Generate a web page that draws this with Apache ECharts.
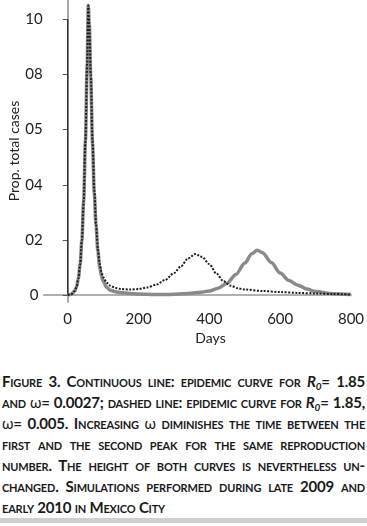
<!DOCTYPE html>
<html>
<head>
<meta charset="utf-8">
<script src="https://cdn.jsdelivr.net/npm/echarts@6/dist/echarts.min.js"></script>
<style>
  html, body { margin: 0; padding: 0; background: #fff; }
  #wrap { position: relative; width: 367px; height: 526px; overflow: hidden; }
  #chart { position: absolute; left: 0; top: 0; width: 367px; height: 350px; }
  #caption {
    position: absolute; left: 2px; top: 371px; width: 363px;
    font-family: Lato, sans-serif; font-weight: bold; letter-spacing: -0.2px;
    font-variant: small-caps; font-size: 15px; line-height: 21px; color: #1a1a1a;
  }
  #caption div { white-space: nowrap; text-align: justify; text-align-last: justify; }
  #caption div.last { text-align-last: left; }
  #caption i { font-style: italic; }
  #caption sub { font-size: 10px; vertical-align: -3px; line-height: 0; }
  .om { font-variant: normal; font-weight: normal; }
  #rule { position: absolute; left: 0; top: 518px; width: 367px; height: 5px; background: #cfcfcf; }
</style>
</head>
<body>
<div id="wrap">
  <div id="chart"></div>
  <div id="caption">
    <div>Figure 3. Continuous line: epidemic curve for <i>R<sub>0</sub></i>= 1.85</div>
    <div>and <span class="om">ω</span>= 0.0027; dashed line: epidemic curve for <i>R<sub>0</sub></i>= 1.85,</div>
    <div><span class="om">ω</span>= 0.005. Increasing <span class="om">ω</span> diminishes the time between the</div>
    <div>first and the second peak for the same reproduction</div>
    <div>number. The height of both curves is nevertheless un-</div>
    <div>changed. Simulations performed during late 2009 and</div>
    <div class="last">early 2010 in Mexico City</div>
  </div>
  <div id="rule"></div>
</div>
<script>
// continuous line (R0 = 1.85, omega = 0.0027)
var solidDays = [0, 10, 20, 25, 30, 35, 40, 45, 50, 55, 58, 61, 65, 70, 75, 80, 85, 90, 95, 100,
  110, 120, 135, 150, 175, 200, 225, 250, 275, 300, 325, 350, 375, 400, 425, 450, 475, 500,
  520, 535, 550, 575, 600, 625, 650, 675, 700, 750, 800];
var solidVals = [0, 0.0003, 0.0015, 0.003, 0.006, 0.011, 0.02, 0.034, 0.056, 0.084, 0.105, 0.098,
  0.079, 0.055, 0.037, 0.025, 0.016, 0.0105, 0.007, 0.005,
  0.0028, 0.0018, 0.0012, 0.0009, 0.0006, 0.0004, 0.0003, 0.0002, 0.0002, 0.0003, 0.0005, 0.0007,
  0.001, 0.0015, 0.0025, 0.0043, 0.0075, 0.0116,
  0.015, 0.0163, 0.0154, 0.0118, 0.008, 0.0053, 0.0036, 0.0022, 0.0013, 0.0005, 0.0002];

// dashed line (R0 = 1.85, omega = 0.005)
var dottedDays = [0, 10, 20, 25, 30, 35, 40, 45, 50, 55, 58, 61, 65, 70, 75, 80, 85, 90, 95, 100,
  110, 120, 135, 150, 175, 200, 225, 250, 275, 300, 320, 340, 360, 380, 400, 420, 440, 460, 480,
  500, 550, 600, 650, 700, 750, 800];
var dottedVals = [0, 0.0003, 0.0015, 0.003, 0.006, 0.011, 0.02, 0.034, 0.056, 0.084, 0.105, 0.098,
  0.08, 0.056, 0.038, 0.026, 0.017, 0.0115, 0.0085, 0.0065,
  0.0045, 0.0034, 0.0026, 0.0022, 0.002, 0.0022, 0.0028, 0.0038, 0.0055, 0.008, 0.0105, 0.0133,
  0.0149, 0.0138, 0.0112, 0.0078, 0.005, 0.0034, 0.0025,
  0.002, 0.0015, 0.0011, 0.0008, 0.0006, 0.0004, 0.0002];

// thin vertical line at day 0 (from 0 up to 0.10)
var refDays = [0, 0];
var refVals = [0, 0.10];

var xTicks = [0, 200, 400, 600, 800];
var yTicks = [0, 0.02, 0.04, 0.06, 0.08, 0.10];
var yTickLabels = ["0", "02", "04", "05", "08", "10"];

function pairs(xs, ys) {
  var out = [];
  for (var i = 0; i < xs.length; i++) out.push([xs[i], ys[i]]);
  return out;
}

var chart = echarts.init(document.getElementById("chart"));
var font = "Lato";

var option = {
  animation: false,
  grid: { left: 44, right: 16, top: 0, height: 302, outerBoundsMode: "none", containLabel: false },
  xAxis: {
    type: "value",
    min: -67,
    max: 800,
    name: "Days",
    nameLocation: "middle",
    nameGap: 28,
    nameTextStyle: { fontFamily: font, fontSize: 14, color: "#222", padding: [0, 0, 0, 26] },
    axisLine: { onZero: true, lineStyle: { color: "#b0b0b0", width: 2 } },
    axisTick: { show: false },
    splitLine: { show: false },
    axisLabel: {
      customValues: xTicks,
      margin: 10,
      fontFamily: font,
      fontSize: 15,
      color: "#222"
    }
  },
  yAxis: {
    type: "value",
    min: -0.0025,
    max: 0.107,
    offset: -6,
    name: "Prop. total cases",
    nameLocation: "middle",
    nameGap: 29,
    nameMoveOverlap: false,
    nameTextStyle: { fontFamily: font, fontSize: 14, color: "#222" },
    axisLine: { show: true, lineStyle: { color: "#a8a8a8", width: 2 } },
    axisTick: { show: true, customValues: yTicks, length: 5, lineStyle: { color: "#555" } },
    splitLine: { show: false },
    axisLabel: {
      customValues: yTicks,
      align: "center",
      margin: 16,
      fontFamily: font,
      fontSize: 15,
      color: "#222",
      formatter: function (v) {
        for (var i = 0; i < yTicks.length; i++) {
          if (Math.abs(yTicks[i] - v) < 1e-9) return yTickLabels[i];
        }
        return "";
      }
    }
  },
  series: [
    {
      name: "omega 0.0027",
      type: "line",
      data: pairs(solidDays, solidVals),
      symbol: "none",
      smooth: 0.3,
      smoothMonotone: "x",
      z: 2,
      lineStyle: { color: "#8a8a8a", width: 3.5 }
    },
    {
      name: "omega 0.005",
      type: "line",
      data: pairs(dottedDays, dottedVals),
      symbol: "none",
      smooth: 0.3,
      smoothMonotone: "x",
      z: 3,
      lineStyle: { color: "#1e1e1e", width: 2, type: [2, 1.5] }
    },
    {
      name: "ref",
      type: "line",
      data: pairs(refDays, refVals),
      symbol: "none",
      silent: true,
      z: 1,
      lineStyle: { color: "#222", width: 1.2 }
    }
  ]
};

chart.setOption(option);
window.addEventListener("resize", function () { chart.resize(); });
</script>
</body>
</html>
